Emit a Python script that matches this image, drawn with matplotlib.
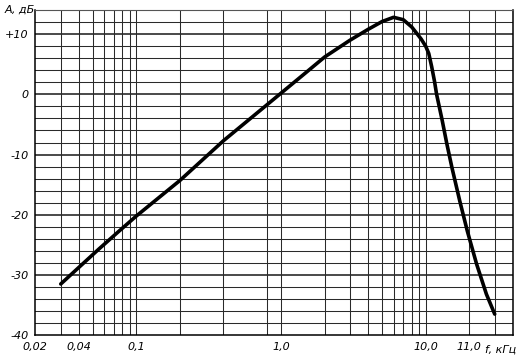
import matplotlib.pyplot as plt
from matplotlib.ticker import NullLocator

# frequency response
freq_khz = [0.03, 0.055, 0.076, 0.1, 0.2, 0.4, 1.0, 1.5, 2.0, 3.0, 4.0, 5.0, 6.0, 7.0, 8.0,
            9.3, 10.0, 10.5, 11.0, 11.5, 11.9, 13.0, 14.0, 15.2, 17.2, 19.4, 22.5, 26.3, 30.0]
gain_db = [-31.5, -25.7, -22.7, -20.2, -14.3, -7.7, 0.2, 3.7, 6.2, 9.0, 10.8, 12.1, 12.8, 12.4, 11.2,
           9.2, 8.0, 6.8, 4.6, 2.2, 0.0, -4.3, -8.2, -12.2, -17.7, -22.7, -28.2, -33.2, -36.5]

# grid of the original paper
vgrid = [0.03, 0.04, 0.05, 0.06, 0.07, 0.08, 0.09, 0.1, 0.2, 0.4, 0.8,
         1, 2, 3, 4, 5, 6, 7, 8, 9, 10, 20, 30]
hgrid = list(range(-38, 14, 2))

xtick_pos = [0.02, 0.04, 0.1, 1.0, 10.0, 20.0]
xtick_lbl = ['0,02', '0,04', '0,1', '1,0', '10,0', '11,0']
ytick_pos = [10, 0, -10, -20, -30, -40]
ytick_lbl = ['+10', '0', '-10', '-20', '-30', '-40']

fig = plt.figure(figsize=(5.19, 3.6), dpi=100)
ax = fig.add_axes([0.068, 0.069, 0.92, 0.903])

ax.set_xscale('log')
ax.set_xlim(0.02, 40)
ax.set_ylim(-40, 14)

for x in vgrid:
    ax.axvline(x, color='#2a2a2a', lw=0.75, zorder=1)
for y in hgrid:
    w = 1.2 if y % 10 == 0 else 0.75
    ax.axhline(y, color='#2a2a2a', lw=w, zorder=1)

ax.plot(freq_khz, gain_db, color='black', lw=2.6, solid_capstyle='round',
        solid_joinstyle='round', zorder=3)

ax.xaxis.set_minor_locator(NullLocator())
ax.set_xticks(xtick_pos)
ax.set_xticklabels(xtick_lbl, fontsize=8, style='italic')
ax.set_yticks(ytick_pos)
ax.set_yticklabels(ytick_lbl, fontsize=8, style='italic')
ax.tick_params(length=0, pad=5)

for s in ax.spines.values():
    s.set_linewidth(1.1)
    s.set_color('black')
ax.spines['top'].set_linewidth(0.8)
ax.spines['top'].set_color('#555555')

ax.text(-0.064, 0.985, 'A, дБ', transform=ax.transAxes, fontsize=8, style='italic',
        ha='left', va='bottom')
ax.text(0.975, -0.03, 'f, кГц', transform=ax.transAxes, fontsize=8, style='italic',
        ha='center', va='top')

fig.savefig('out.png', dpi=100)
